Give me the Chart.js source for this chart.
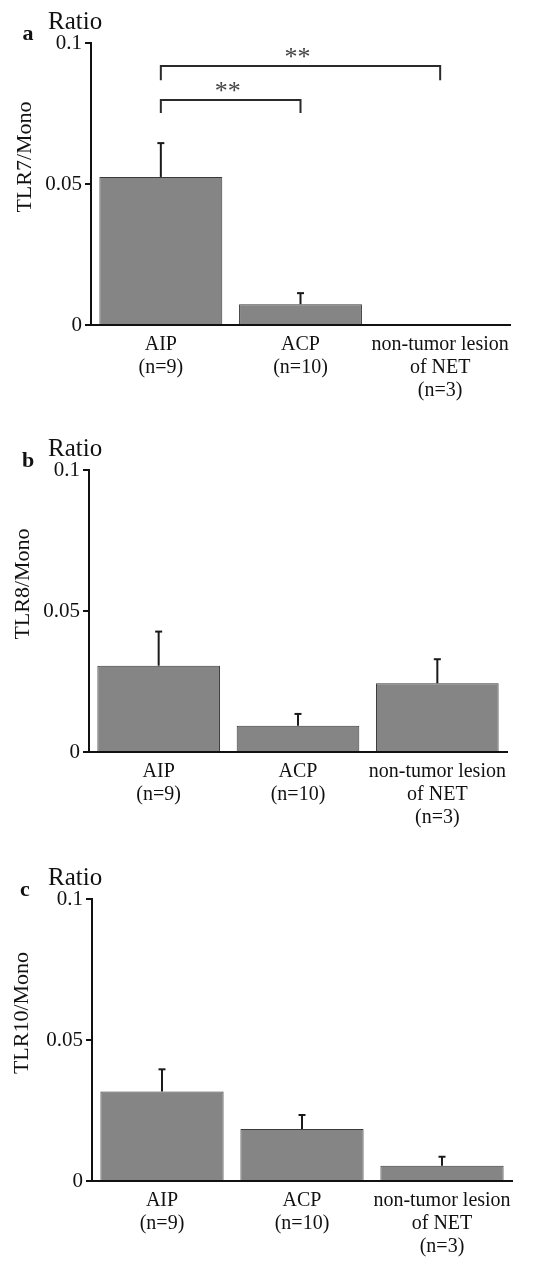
<!DOCTYPE html>
<html lang="en">
<head>
<meta charset="UTF-8">
<title>TLR/Mono ratio</title>
<script src="https://cdn.jsdelivr.net/npm/chart.js"></script>
<style>
  body { margin: 0; background: #fff; }
  #wrap { position: relative; width: 533px; height: 1262px; overflow: hidden; }
  .panel { position: absolute; left: 0; width: 533px; }
</style>
</head>
<body>
<div id="wrap">
  <div class="panel" style="top:0;height:420px"><canvas id="chartA"></canvas></div>
  <div class="panel" style="top:420px;height:420px"><canvas id="chartB"></canvas></div>
  <div class="panel" style="top:820px;height:442px"><canvas id="chartC"></canvas></div>
</div>
<script>
// data
var categories = [['AIP', '(n=9)'], ['ACP', '(n=10)'], ['non-tumor lesion', 'of NET', '(n=3)']];
var yTickLabels = ['0', '0.05', '0.1'];

var tlr7Values = [0.0525, 0.0074, 0];
var tlr7Errors = [0.0120, 0.0039, 0];
var tlr8Values = [0.0306, 0.0093, 0.0244];
var tlr8Errors = [0.0121, 0.0042, 0.0085];
var tlr10Values = [0.0317, 0.0184, 0.0054];
var tlr10Errors = [0.0079, 0.0050, 0.0032];

// significance brackets (panel a only), heights in data units
var tlr7Brackets = [
  { from: 0, to: 1, level: 0.0798, drop: 0.0046, label: '**' },
  { from: 0, to: 2, level: 0.0918, drop: 0.0050, label: '**' }
];

var serif = "'Liberation Serif', 'DejaVu Serif', serif";

// error bars (upper half only) + brackets + panel letters
var extrasPlugin = {
  id: 'extras',
  afterDatasetsDraw: function(chart, args, opts) {
    var ctx = chart.ctx;
    var y = chart.scales.y;
    var x = chart.scales.x;
    var area = chart.chartArea;
    var vals = chart.data.datasets[0].data;
    var meta = chart.getDatasetMeta(0);
    ctx.save();
    ctx.strokeStyle = '#1a1a1a';
    ctx.lineWidth = 2;
    meta.data.forEach(function(bar, i) {
      if (!opts.errors[i]) return;
      var top = y.getPixelForValue(vals[i] + opts.errors[i]);
      ctx.beginPath();
      ctx.moveTo(bar.x, bar.y);
      ctx.lineTo(bar.x, top);
      ctx.stroke();
      ctx.beginPath();
      ctx.moveTo(bar.x - 3.5, top);
      ctx.lineTo(bar.x + 3.5, top);
      ctx.stroke();
    });

    (opts.brackets || []).forEach(function(b) {
      var x1 = x.getPixelForValue(b.from);
      var x2 = x.getPixelForValue(b.to);
      var yl = y.getPixelForValue(b.level);
      var yd = y.getPixelForValue(b.level - b.drop);
      ctx.strokeStyle = '#2a2a2a';
      ctx.beginPath();
      ctx.moveTo(x1, yd);
      ctx.lineTo(x1, yl);
      ctx.lineTo(x2, yl);
      ctx.lineTo(x2, yd);
      ctx.stroke();
      ctx.fillStyle = '#444';
      ctx.font = '26px ' + serif;
      ctx.textAlign = 'center';
      ctx.textBaseline = 'alphabetic';
      ctx.fillText(b.label, (x1 + x2) / 2 - 3, yl - 1);
    });

    ctx.fillStyle = '#111';
    ctx.textBaseline = 'middle';
    ctx.textAlign = 'center';
    ctx.font = 'bold 22px ' + serif;
    ctx.fillText(opts.letter, opts.letterX, area.top - 9);
    ctx.textAlign = 'left';
    ctx.font = '25px ' + serif;
    ctx.fillText('Ratio', 48, area.top - 21);

    // rotated y title
    ctx.font = '22px ' + serif;
    ctx.translate(opts.titleX, (area.top + area.bottom) / 2 - 27);
    ctx.rotate(-Math.PI / 2);
    ctx.textAlign = 'center';
    ctx.fillText(opts.title, 0, 0);
    ctx.restore();
  }
};

function makeChart(id, values, errors, cfg) {
  return new Chart(document.getElementById(id), {
    type: 'bar',
    data: {
      labels: categories,
      datasets: [{
        data: values,
        backgroundColor: '#858585',
        borderColor: '#3a3a3a',
        borderWidth: 1,
        categoryPercentage: 1,
        barPercentage: 0.88
      }]
    },
    options: {
      responsive: true,
      maintainAspectRatio: false,
      animation: false,
      layout: { padding: { top: cfg.top, right: cfg.right, left: 0, bottom: 0 } },
      plugins: {
        legend: { display: false },
        tooltip: { enabled: false },
        extras: {
          errors: errors,
          brackets: cfg.brackets,
          letter: cfg.letter,
          letterX: cfg.letterX,
          title: cfg.title,
          titleX: cfg.titleX
        }
      },
      scales: {
        x: {
          grid: { display: false, drawTicks: false },
          border: { display: true, color: '#111', width: 2 },
          ticks: {
            color: '#111',
            padding: 8,
            maxRotation: 0,
            autoSkip: false,
            font: { family: serif, size: 20, lineHeight: 1.15 }
          },
          afterFit: function(s) { s.height = cfg.xHeight; }
        },
        y: {
          min: 0,
          max: 0.1,
          grid: { drawOnChartArea: false, drawTicks: true, tickLength: 6, color: '#111', lineWidth: 2 },
          border: { display: true, color: '#111', width: 2 },
          ticks: {
            stepSize: 0.05,
            color: '#111',
            padding: 3,
            font: { family: serif, size: 21 },
            callback: function(v, i) { return yTickLabels[i]; }
          },
          afterFit: function(s) { s.width = cfg.axisX; }
        }
      }
    },
    plugins: [extrasPlugin]
  });
}

makeChart('chartA', tlr7Values, tlr7Errors, {
  top: 43, right: 23, xHeight: 95, axisX: 91,
  letter: 'a', letterX: 28, title: 'TLR7/Mono', titleX: 25, brackets: tlr7Brackets
});
makeChart('chartB', tlr8Values, tlr8Errors, {
  top: 50, right: 26, xHeight: 88, axisX: 89,
  letter: 'b', letterX: 28, title: 'TLR8/Mono', titleX: 23, brackets: []
});
makeChart('chartC', tlr10Values, tlr10Errors, {
  top: 79, right: 21, xHeight: 81, axisX: 92,
  letter: 'c', letterX: 25, title: 'TLR10/Mono', titleX: 22, brackets: []
});
</script>
</body>
</html>
